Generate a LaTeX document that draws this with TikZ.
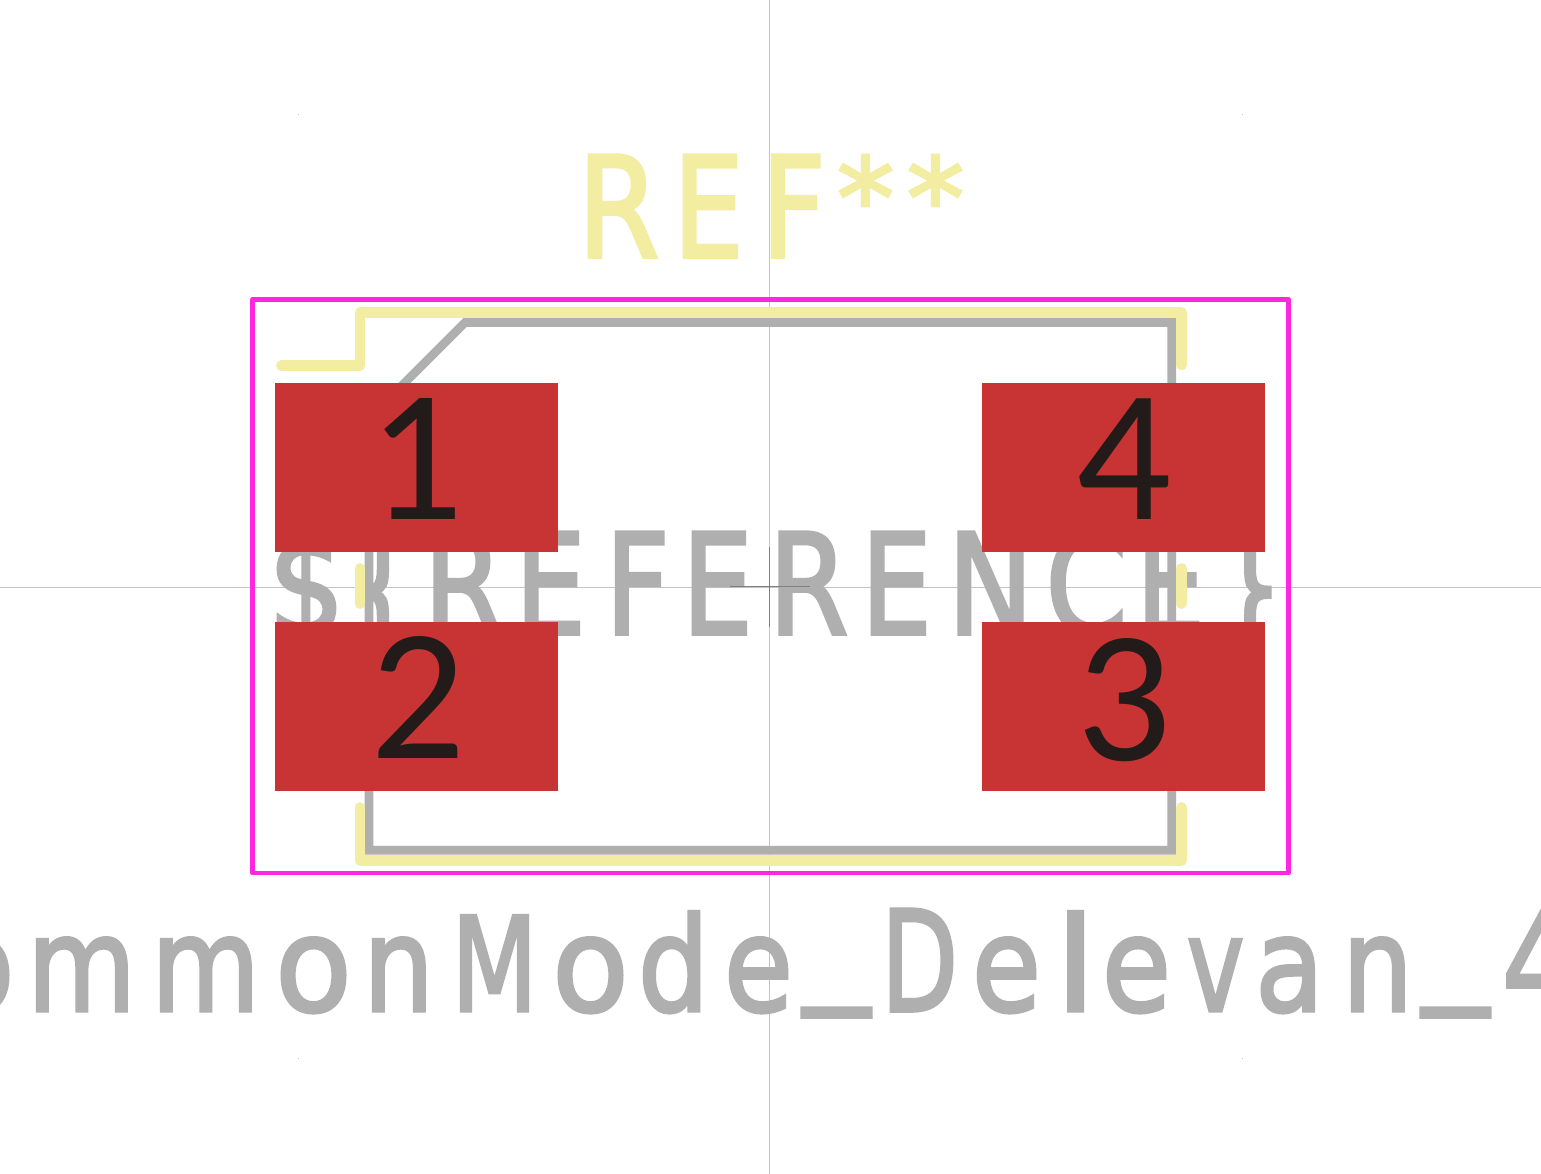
\documentclass[tikz,border=0pt]{standalone}
\usepackage{fontspec}
\usepackage{graphicx}
\setmainfont{Carlito}
\newfontfamily\strokefont{DejaVu Sans}[FakeBold=2.6]
\definecolor{silk}{HTML}{F2EDA1}
\definecolor{fab}{HTML}{AFAFAF}
\definecolor{court}{HTML}{FF26E2}
\definecolor{padred}{HTML}{C83434}
\definecolor{padtxt}{HTML}{231A1A}
\definecolor{axisgray}{HTML}{C4C4C4}
\definecolor{origingray}{HTML}{808080}
% glyph at absolute x (#1), x scale (#2), y scale (#3), raise (#4), char (#5)
\newcommand\GL[5]{\makebox[0pt][l]{\hspace*{#1pt}\makebox[0pt][c]{\raisebox{#4pt}{\scalebox{#2}[#3]{#5}}}}}
\newcommand\LC[3]{\GL{#1}{#2}{.89}{0}{#3}}
\newcommand\UC[3]{\GL{#1}{#2}{.95}{0}{#3}}
\tikzset{
  silkline/.style={draw=silk,line width=10.8pt,line cap=round,line join=round},
  fabline/.style={draw=fab,line width=8.8pt,line cap=butt,line join=miter},
  courtline/.style={draw=court,line width=4.5pt,line join=round},
  padbox/.style={fill=padred,draw=none,minimum width=283pt,minimum height=169pt,inner sep=0,outer sep=0,anchor=north west},
  padnum/.style={text=padtxt,font=\fontsize{188}{188}\selectfont,inner sep=0,outer sep=0,anchor=base},
  striptext/.style={font=\fontsize{147}{147}\strokefont,inner sep=0,outer sep=0,anchor=base west},
}
\begin{document}
\begin{tikzpicture}[x=1pt,y=-1pt]
\path[use as bounding box,fill=white] (0,0) rectangle (1541,1174);
\clip (0,0) rectangle (1541,1174);
% axes
\draw[axisgray,line width=1pt] (769.5,0) -- (769.5,1174);
\draw[axisgray,line width=1pt] (0,587.5) -- (1541,587.5);
% faint corner ticks
\foreach \px/\py in {298/115,1242/115,298/1058,1242/1058}
  \fill[axisgray] (\px-0.5,\py-0.5) rectangle (\px+0.5,\py+0.5);
% fabrication outline
\draw[fabline] (465,322.5) -- (1171.7,322.5) -- (1171.7,850.3) -- (369,850.3) -- (369,418.5) -- cycle;
% fab texts
\node[striptext,text=fab] (reftext) at (0,634) {%
\UC{306}{.82}{\$}\UC{382}{.72}{\{}\UC{463}{.78}{R}\UC{550}{.76}{E}\UC{637}{.76}{F}\UC{717}{.76}{E}\UC{808}{.78}{R}\UC{896}{.76}{E}\UC{990}{.78}{N}\UC{1086}{.80}{C}\UC{1170}{.74}{E}\UC{1250}{.70}{\}}};
\node[striptext,text=fab] (valtext) at (0,1011) {%
\LC{-24}{.85}{o}\LC{81}{.76}{m}\LC{205}{.76}{m}\LC{313}{.85}{o}\LC{398}{.76}{n}\LC{494}{.68}{M}\LC{590}{.85}{o}\LC{673}{.76}{d}\LC{758}{.76}{e}\GL{836}{.90}{.9}{25}{\_}\UC{919}{.68}{D}\LC{1006}{.76}{e}\LC{1075}{1}{l}\LC{1136}{.76}{e}\LC{1215}{.66}{v}\LC{1289}{.76}{a}\LC{1377}{.76}{n}\GL{1455}{.90}{.9}{25}{\_}\UC{1538}{.78}{4}};
% silkscreen
\node[striptext,text=silk] (silktext) at (0,257) {%
\UC{618}{.80}{R}\UC{708}{.76}{E}\UC{793}{.76}{F}\GL{865}{.78}{.76}{19}{*}\GL{935}{.78}{.76}{19}{*}};
\draw[silkline] (281.5,365.5) -- (360,365.5) -- (360,312.7) -- (1181.5,312.7) -- (1181.5,365);
\draw[silkline] (360,807.5) -- (360,860.3) -- (1181.5,860.3) -- (1181.5,807.5);
\draw[silkline] (360,568.5) -- (360,603.5);
\draw[silkline] (1181.5,568.5) -- (1181.5,603.5);
% courtyard
\draw[courtline] (252.5,299.5) rectangle (1288.5,873);
% pads
\node[padbox] (pad1) at (275,383) {};
\node[padbox] (pad2) at (275,622) {};
\node[padbox] (pad3) at (982,622) {};
\node[padbox] (pad4) at (982,383) {};
\node[padnum] (n1) at (416,519) {1};
\node[padnum] (n2) at (418,758) {2};
\node[padnum] (n3) at (1124,760) {3};
\node[padnum] (n4) at (1124,519) {4};
% origin mark
\draw[origingray,line width=1pt] (730,586.5) -- (810,586.5);
\draw[origingray,line width=1pt] (769.5,547) -- (769.5,627);
\end{tikzpicture}
\end{document}
